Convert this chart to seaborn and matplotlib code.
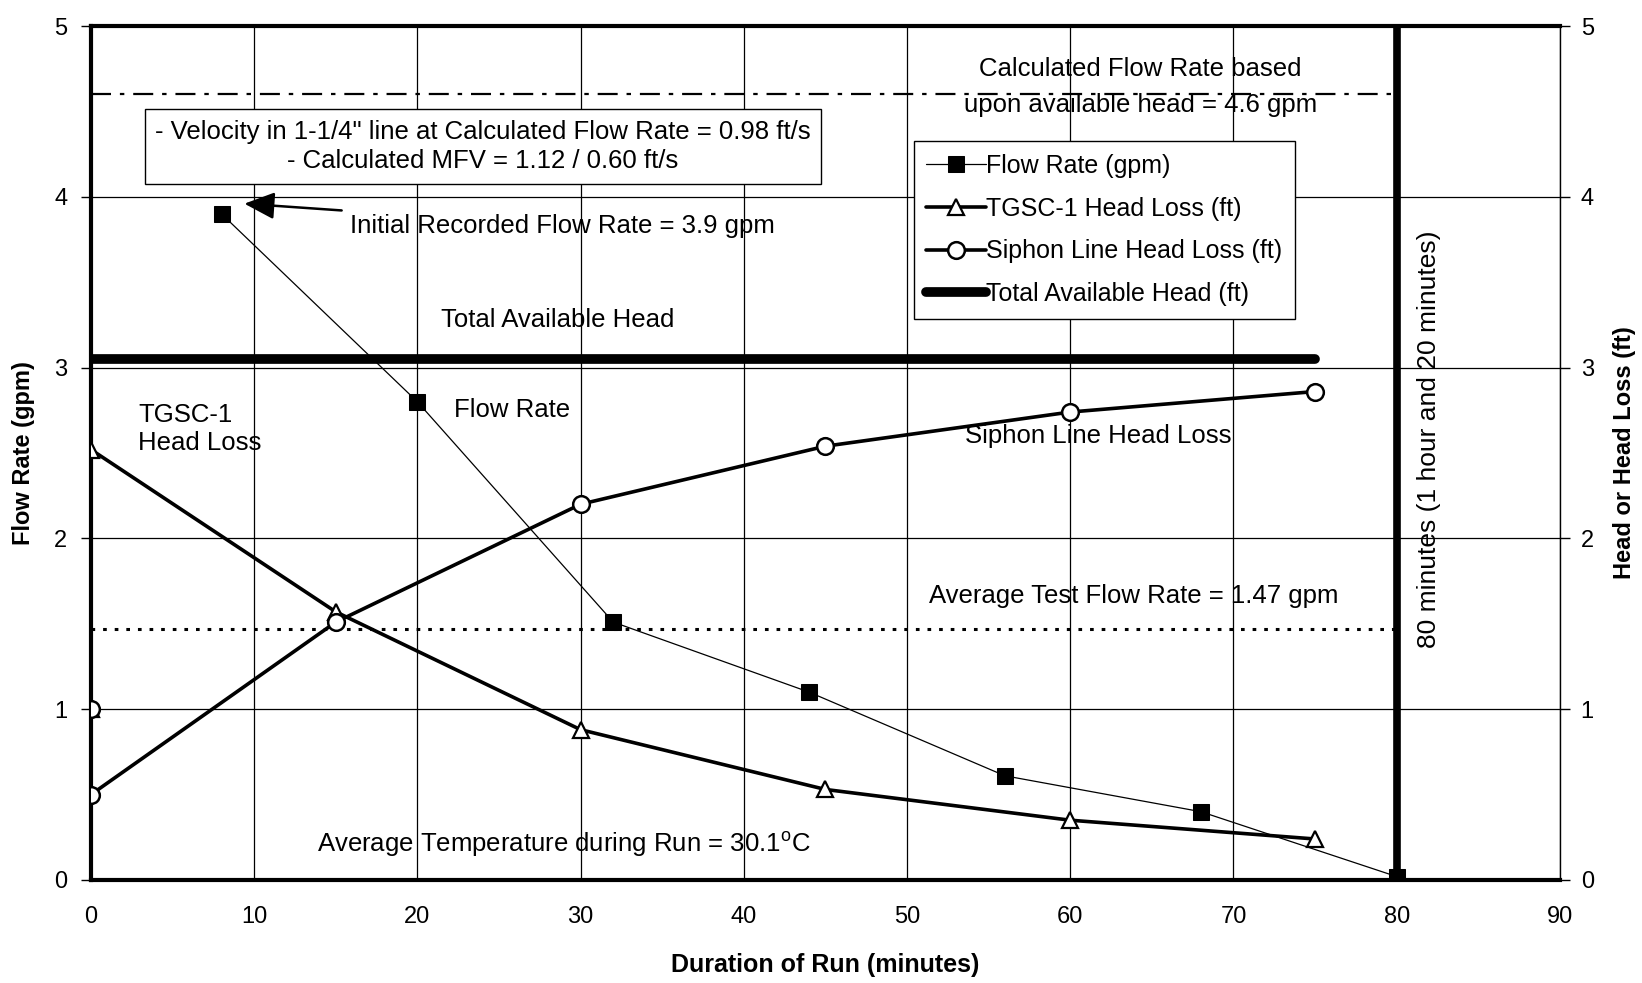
import matplotlib
matplotlib.use("Agg")
import matplotlib.pyplot as plt
import seaborn as sns
import pandas as pd

# Flow rate readings (left axis, gpm)
flow_minutes = [8, 20, 32, 44, 56, 68, 80]
flow_gpm = [3.9, 2.8, 1.51, 1.1, 0.61, 0.4, 0.02]

# Head-loss readings (right axis, ft)
tgsc_minutes = [0, 0, 15, 30, 45, 60, 75]
tgsc_loss = [1.0, 2.52, 1.57, 0.88, 0.53, 0.35, 0.24]
siphon_minutes = [0, 0, 15, 30, 45, 60, 75]
siphon_loss = [1.0, 0.5, 1.51, 2.2, 2.54, 2.74, 2.86]

# Total available head (right axis, ft)
head_minutes = [0, 75]
head_ft = [3.05, 3.05]

# Reference values
calc_flow_rate = 4.6
avg_flow_rate = 1.47
run_length = 80

x_ticks = [0, 10, 20, 30, 40, 50, 60, 70, 80, 90]
y_ticks = [0, 1, 2, 3, 4, 5]

sns.set_style("white")
plt.rcParams["font.family"] = ["Liberation Sans", "DejaVu Sans"]
plt.rcParams["text.color"] = "black"
plt.rcParams["axes.labelcolor"] = "black"
plt.rcParams["axes.unicode_minus"] = False

fig = plt.figure(figsize=(16.42, 9.83), dpi=100)
ax = fig.add_axes([0.0554, 0.1048, 0.8946, 0.8687])
ax2 = ax.twinx()

ax.set_xlim(0, 90)
ax.set_ylim(0, 5)
ax2.set_ylim(0, 5)
ax.set_xticks(x_ticks)
ax.set_yticks(y_ticks)
ax2.set_yticks(y_ticks)
ax.grid(True, color="black", linewidth=0.9)
ax.set_axisbelow(True)

for name, sp in ax.spines.items():
    sp.set_color("black")
    sp.set_linewidth(3 if name in ("left", "bottom", "top") else 1)
for sp in ax2.spines.values():
    sp.set_visible(False)

ax.tick_params(axis="x", direction="out", length=7, width=1, pad=12, labelsize=17, colors="black")
ax.tick_params(axis="y", direction="out", length=7, width=1, pad=10, labelsize=17, colors="black")
ax2.tick_params(axis="y", direction="out", length=7, width=1, pad=8, labelsize=17, colors="black")

# Reference lines
ax.axhline(calc_flow_rate, xmin=0, xmax=run_length / 90, color="black", lw=1.6,
           dashes=(9, 4, 2, 4))
ax.axhline(avg_flow_rate, xmin=0, xmax=run_length / 90, color="black", lw=2.2,
           dashes=(1.2, 2.6))

# Series
df_flow = pd.DataFrame({"t": flow_minutes, "v": flow_gpm})
sns.lineplot(data=df_flow, x="t", y="v", ax=ax, color="black", lw=0.9, marker="s",
             markersize=11, markerfacecolor="black", markeredgecolor="black",
             sort=False, estimator=None, label="Flow Rate (gpm)", legend=False, zorder=5)

df_tgsc = pd.DataFrame({"t": tgsc_minutes, "v": tgsc_loss})
sns.lineplot(data=df_tgsc, x="t", y="v", ax=ax2, color="black", lw=2.6, marker="^",
             markersize=12, markerfacecolor="white", markeredgecolor="black",
             markeredgewidth=1.6, sort=False, estimator=None,
             label="TGSC-1 Head Loss (ft)", legend=False, zorder=5)

df_siphon = pd.DataFrame({"t": siphon_minutes, "v": siphon_loss})
sns.lineplot(data=df_siphon, x="t", y="v", ax=ax2, color="black", lw=2.6, marker="o",
             markersize=12, markerfacecolor="white", markeredgecolor="black",
             markeredgewidth=1.8, sort=False, estimator=None,
             label="Siphon Line Head Loss (ft)", legend=False, zorder=5)

df_head = pd.DataFrame({"t": head_minutes, "v": head_ft})
sns.lineplot(data=df_head, x="t", y="v", ax=ax2, color="black", lw=7, sort=False,
             estimator=None, label="Total Available Head (ft)", legend=False, zorder=4)

# End of run marker line
ax.axvline(run_length, color="black", lw=5.5, zorder=6)

ax.set_xlabel("Duration of Run (minutes)", fontsize=18, fontweight="bold", labelpad=18)
ax.set_ylabel("Flow Rate (gpm)", fontsize=17, fontweight="bold", labelpad=14)
ax2.set_ylabel("Head or Head Loss (ft)", fontsize=17, fontweight="bold", labelpad=14)

fs = 18.5

# Legend
h1, l1 = ax.get_legend_handles_labels()
h2, l2 = ax2.get_legend_handles_labels()
leg = ax.legend(h1 + h2, l1 + l2, loc="upper left", bbox_to_anchor=(0.56, 0.865),
                fontsize=18, frameon=True, fancybox=False, edgecolor="black",
                framealpha=1, handlelength=2.4, handletextpad=0.0, labelspacing=0.75,
                borderpad=0.5, borderaxespad=0)
leg.get_frame().set_linewidth(1.0)
leg.set_zorder(10)
for txt in leg.get_texts():
    txt.set_color("black")

ax.text(64.3, 4.75, "Calculated Flow Rate based", ha="center", va="center", fontsize=fs)
ax.text(64.3, 4.54, "upon available head = 4.6 gpm", ha="center", va="center", fontsize=fs)
ax.text(24.0, 4.295,
        "- Velocity in 1-1/4\" line at Calculated Flow Rate = 0.98 ft/s\n- Calculated MFV = 1.12 / 0.60 ft/s",
        ha="center", va="center", multialignment="center", fontsize=fs, linespacing=1.3,
        bbox=dict(boxstyle="square,pad=0.4", facecolor="white", edgecolor="black", lw=1.0),
        zorder=8)
ax.annotate("Initial Recorded Flow Rate = 3.9 gpm", xy=(9.4, 3.96), xytext=(15.9, 3.83),
            ha="left", va="center", fontsize=fs,
            arrowprops=dict(arrowstyle="-|>,head_length=1.0,head_width=0.45", color="black",
                            lw=1.8, shrinkA=4, shrinkB=0))
ax.text(28.6, 3.28, "Total Available Head", ha="center", va="center", fontsize=fs)
ax.text(2.9, 2.64, "TGSC-1\nHead Loss", ha="left", va="center", fontsize=fs, linespacing=1.2)
ax.text(25.8, 2.75, "Flow Rate", ha="center", va="center", fontsize=fs)
ax.text(61.7, 2.6, "Siphon Line Head Loss", ha="center", va="center", fontsize=fs)
ax.text(63.9, 1.66, "Average Test Flow Rate = 1.47 gpm", ha="center", va="center", fontsize=fs)
ax.text(29.0, 0.21, "Average Temperature during Run = 30.1$^\\mathregular{o}$C",
        ha="center", va="center", fontsize=fs)
ax.text(82.0, 2.58, "80 minutes (1 hour and 20 minutes)", rotation=90, ha="center",
        va="center", fontsize=19)

fig.savefig("out.png", dpi=100, facecolor="white")
